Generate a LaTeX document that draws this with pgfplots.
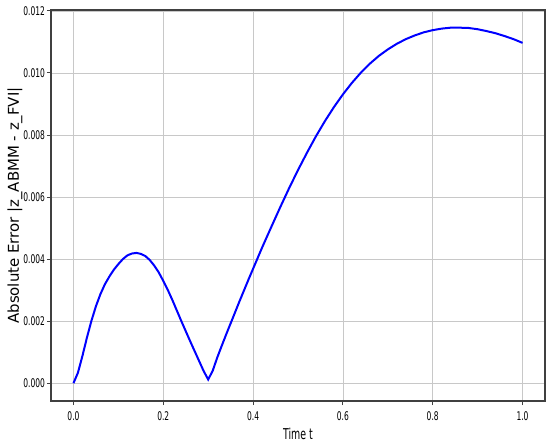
\documentclass[border=0pt]{standalone}
\usepackage{pgfplots}
\pgfplotsset{compat=1.18}
\usepackage{fontspec}
\setmainfont{DejaVu Sans}
\newfontfamily\condfont[FakeStretch=0.63]{DejaVu Sans}
\definecolor{gridgray}{RGB}{200,200,200}
\definecolor{spine}{RGB}{64,64,64}
\begin{document}
\begin{tikzpicture}
\path[use as bounding box] (-51bp,-46bp) rectangle (499bp,401bp);
\begin{axis}[
  scale only axis,
  width=494bp, height=391bp,
  xmin=-0.05, xmax=1.05,
  ymin=-0.000573, ymax=0.01203,
  xtick={0,0.2,0.4,0.6,0.8,1.0},
  ytick={0,0.002,0.004,0.006,0.008,0.010,0.012},
  scaled y ticks=false,
  scaled x ticks=false,
  xticklabel style={/pgf/number format/fixed, /pgf/number format/fixed zerofill, /pgf/number format/precision=1, yshift=-3bp},
  yticklabel style={/pgf/number format/fixed, /pgf/number format/fixed zerofill, /pgf/number format/precision=3, xshift=1.5bp},
  /pgf/number format/assume math mode=true,
  tick label style={font=\condfont\fontsize{12}{14}\selectfont},
  grid=major,
  major grid style={color=gridgray, line width=0.8bp},
  axis line style={color=spine, line width=1.3bp},
  tick style={color=spine, line width=1bp},
  major tick length=4bp,
  tick align=outside,
  xtick pos=left, ytick pos=left,
  xlabel={Time t},
  ylabel={Absolute Error |z\_ABMM - z\_FVI|},
  every axis x label/.style={at={(axis description cs:0.5,0)}, yshift=-33bp, anchor=center, font=\condfont\fontsize{15}{17}\selectfont},
  every axis y label/.style={at={(axis description cs:0,0.5)}, xshift=-36bp, rotate=90, anchor=center, font=\fontsize{15}{18}\selectfont},
]
\addplot[color=blue, line width=2bp] coordinates {
(0.00,0) (0.01,0.00034) (0.02,0.00088) (0.03,0.00147) (0.04,0.00201)
(0.05,0.00248) (0.06,0.00287) (0.07,0.00319) (0.08,0.00344) (0.09,0.00366)
(0.10,0.00384) (0.11,0.00400) (0.12,0.00412) (0.13,0.00418) (0.14,0.00420)
(0.15,0.00417) (0.16,0.00410) (0.17,0.00397) (0.18,0.00379) (0.19,0.00357)
(0.20,0.00330) (0.21,0.00301) (0.22,0.00269) (0.23,0.00235) (0.24,0.00201)
(0.25,0.00168) (0.26,0.00135) (0.27,0.00103) (0.28,0.00071) (0.29,0.00039)
(0.30,0.00012) (0.31,0.00040) (0.32,0.00082) (0.33,0.00120) (0.34,0.00157)
(0.35,0.00193) (0.36,0.00229) (0.37,0.00265) (0.38,0.00300) (0.39,0.00335)
(0.40,0.00369) (0.42,0.00437) (0.44,0.00502) (0.46,0.00566) (0.48,0.00628)
(0.50,0.00687) (0.52,0.00743) (0.54,0.00796) (0.56,0.00845) (0.58,0.00890)
(0.60,0.00931) (0.62,0.00968) (0.64,0.01001) (0.66,0.01030) (0.68,0.01055)
(0.70,0.01076) (0.72,0.01094) (0.74,0.01109) (0.76,0.01121) (0.78,0.01131)
(0.80,0.01138) (0.82,0.01143) (0.84,0.01146) (0.86,0.01146) (0.88,0.01145)
(0.90,0.01141) (0.92,0.01135) (0.94,0.01128) (0.96,0.01119) (0.98,0.01109)
(1.00,0.01097)
};
\end{axis}
\end{tikzpicture}
\end{document}
